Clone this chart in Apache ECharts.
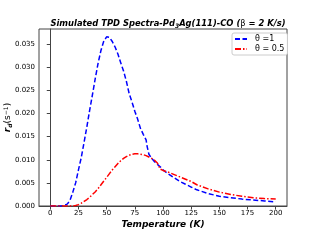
<!DOCTYPE html>
<html><head><meta charset="utf-8">
<script src="https://cdn.jsdelivr.net/npm/echarts@6/dist/echarts.min.js"></script>
<style>html,body{margin:0;padding:0;background:#fff}#c{width:320px;height:240px}</style>
</head><body><div id="c"></div>
<script>
const tempBlue = [0,5,10,15,17.5,20,22.5,25,27.5,30,32.5,35,37.5,40,42.5,45,47.5,50,52.5,55,57.5,60,62.5,65,67.5,70,72.5,75,77.5,80,82.5,85,86,87.5,90,92.5,95,97.5,100,105,110,115,120,125,130,140,150,160,170,180,190,200];
const rateTheta1 = [0,0,0,0.0004,0.0012,0.003,0.005,0.0078,0.0105,0.0138,0.0172,0.0208,0.0242,0.0277,0.031,0.0337,0.0357,0.0366,0.0365,0.0356,0.0344,0.0329,0.031,0.0292,0.027,0.0243,0.0225,0.0205,0.0188,0.0168,0.0155,0.0143,0.0128,0.0112,0.0103,0.0096,0.009,0.0085,0.0078,0.0069,0.0061,0.0053,0.0047,0.0041,0.0035,0.0027,0.0021,0.0018,0.0015,0.0013,0.0011,0.0009];
const tempRed = [0,10,20,22.5,25,27.5,30,32.5,35,37.5,40,42.5,45,47.5,50,52.5,55,57.5,60,62.5,65,67.5,70,72.5,75,77.5,80,82.5,85,87.5,90,92.5,95,96,97.5,100,105,110,115,120,125,130,140,150,160,170,180,190,200];
const rateTheta05 = [0,0,0,0.0001,0.0003,0.0006,0.001,0.0014,0.0019,0.0025,0.0031,0.0038,0.0046,0.0054,0.0062,0.007,0.0078,0.0085,0.0092,0.0098,0.0103,0.0107,0.011,0.0112,0.0113,0.0113,0.0112,0.0111,0.0109,0.0106,0.0103,0.0099,0.0093,0.0088,0.008,0.0077,0.0073,0.0068,0.0063,0.0058,0.0053,0.0046,0.0037,0.003,0.0025,0.0021,0.0018,0.0016,0.0015];
const xTicks = [0,25,50,75,100,125,150,175,200];
const yTicks = [0,0.005,0.01,0.015,0.02,0.025,0.03,0.035];
const seriesNames = ['θ =1', 'θ = 0.5'];

const chart = echarts.init(document.getElementById('c'), null, {renderer:'canvas'});
const F = 'DejaVu Sans';
chart.setOption({
  animation:false,
  backgroundColor:'#fff',
  title:{
    text:'Simulated TPD Spectra-Pd{s|3}Ag(111)-CO ({n|β} = 2 K/s)',
    left:163, top:14, textAlign:'center',
    textStyle:{fontFamily:F,fontSize:8.4,fontWeight:'bold',fontStyle:'italic',color:'#000',
      rich:{s:{fontFamily:F,fontSize:6,fontWeight:'bold',fontStyle:'italic',verticalAlign:'bottom',padding:[4,0,0,0]},
            n:{fontFamily:F,fontSize:8.4,fontWeight:'normal',fontStyle:'normal'}}}
  },
  legend:{
    orient:'vertical', left:232, top:33,
    itemWidth:12, itemHeight:6, itemGap:2,
    padding:[2,3,2,2],
    borderColor:'#ccc', borderWidth:1, borderRadius:2,
    backgroundColor:'#fff',
    itemStyle:{color:'rgba(0,0,0,0)',borderWidth:0,borderColor:'rgba(0,0,0,0)'},
    textStyle:{fontFamily:F,fontSize:8,color:'#000',padding:[0,0,0,3]},
    data:seriesNames
  },
  grid:{left:39, right:33, top:29, bottom:34, containLabel:false, outerBoundsMode:'none', show:true, borderColor:'#444', borderWidth:1, backgroundColor:'transparent'},
  xAxis:{
    type:'value', min:-10, max:210,
    name:'Temperature (K)', nameLocation:'middle', nameGap:14, nameMoveOverlap:false,
    nameTextStyle:{fontFamily:F,fontSize:9,fontWeight:'bold',fontStyle:'italic',color:'#000'},
    axisLine:{show:true,onZero:false,lineStyle:{color:'#444',width:1}},
    axisTick:{show:true,length:3.5,lineStyle:{color:'#444'},customValues:xTicks},
    axisLabel:{fontFamily:F,fontSize:7,color:'#000',margin:4,customValues:xTicks,formatter:v=>String(v)},
    splitLine:{show:false}
  },
  yAxis:{
    type:'value', min:0, max:0.0383,
    name:'{b|r}{s|d}(s{p|−1})', nameLocation:'middle', nameGap:26, nameRotate:90, nameMoveOverlap:false,
    nameTextStyle:{fontFamily:F,fontSize:9,color:'#000',
      rich:{b:{fontFamily:F,fontSize:9,fontWeight:'bold',fontStyle:'italic'},
            s:{fontFamily:F,fontSize:6,fontWeight:'bold',fontStyle:'italic',verticalAlign:'bottom',padding:[4,0,0,0]},
            p:{fontFamily:F,fontSize:6,verticalAlign:'top',padding:[0,0,4,0]}}},
    axisLine:{show:true,lineStyle:{color:'#444',width:1}},
    axisTick:{show:true,length:3.5,lineStyle:{color:'#444'},customValues:yTicks},
    axisLabel:{fontFamily:F,fontSize:7,color:'#000',margin:4,customValues:yTicks,formatter:v=>v.toFixed(3)},
    splitLine:{show:false}
  },
  series:[
    {name:seriesNames[0], type:'line', showSymbol:false, symbol:'none', smooth:false,
     data:tempBlue.map((t,i)=>[t,rateTheta1[i]]),
     itemStyle:{color:'#0000ff'},
     lineStyle:{color:'#0000ff',width:1.5,type:[5,2.5]}},
    {name:seriesNames[1], type:'line', showSymbol:false, symbol:'none', smooth:false,
     data:tempRed.map((t,i)=>[t,rateTheta05[i]]),
     itemStyle:{color:'#ff0000'},
     lineStyle:{color:'#ff0000',width:1.5,type:[6,2,1.5,2]}}
  ]
});
</script></body></html>
